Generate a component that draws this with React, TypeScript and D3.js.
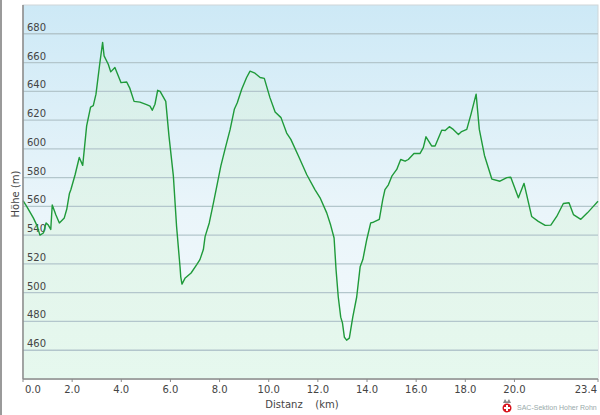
import * as d3 from 'd3';
import React from 'react';

// Höhenprofil: Distanz in km, Höhe in m
const distKm = [
  0, 0.15, 0.42, 0.56, 0.69, 0.83, 0.94, 1.03, 1.13, 1.19, 1.34, 1.48, 1.68, 1.78, 1.89, 1.95,
  2.12, 2.29, 2.43, 2.59, 2.75, 2.86, 2.97, 3.13, 3.24, 3.3, 3.47, 3.57, 3.74, 3.99, 4.22, 4.35,
  4.52, 4.76, 5.03, 5.17, 5.26, 5.37, 5.48, 5.58, 5.81, 5.94, 6.12, 6.25, 6.39, 6.42, 6.47, 6.59,
  6.84, 7.07, 7.2, 7.34, 7.41, 7.58, 7.75, 7.91, 8.05, 8.22, 8.43, 8.6, 8.72, 8.9, 9.1, 9.24,
  9.44, 9.65, 9.82, 10.05, 10.26, 10.5, 10.73, 10.9, 11.21, 11.55, 11.88, 12.09, 12.36, 12.52,
  12.66, 12.74, 12.83, 12.93, 13.0, 13.08, 13.17, 13.28, 13.42, 13.58, 13.72, 13.83, 13.99,
  14.15, 14.26, 14.5, 14.64, 14.73, 14.87, 15.01, 15.21, 15.37, 15.55, 15.68, 15.91, 16.16,
  16.29, 16.4, 16.63, 16.77, 17.04, 17.18, 17.35, 17.51, 17.72, 17.85, 18.06, 18.23, 18.44,
  18.57, 18.78, 19.08, 19.41, 19.69, 19.85, 20.16, 20.39, 20.7, 20.97, 21.25, 21.48, 21.72,
  21.99, 22.22, 22.4, 22.7, 22.97, 23.21, 23.4,
];
const hoeheM = [
  564, 560, 552, 547, 540, 541.5, 548.5, 547, 544, 561, 554, 548.5, 552, 558, 569, 571.7,
  582, 594, 588.5, 616, 629, 630, 638, 660, 674, 664.6, 658.8, 653.5, 656.5, 646, 646.5, 642,
  633, 632.5, 630.7, 629.7, 626.8, 631, 640.7, 640, 633, 609, 581, 546, 518, 511, 506, 510,
  513.7, 519.5, 523, 530, 539, 548.5, 562.5, 576, 588, 599.6, 613.5, 627.5, 632, 641.4, 649.6, 654,
  652.6, 649.6, 649, 635.6, 625.6, 621.7, 611, 606.6, 595, 582, 571.7, 566, 555.5, 547,
  538, 516, 497, 483, 479, 469, 467, 468.4, 483, 497, 518, 523, 537,
  548.5, 549, 551, 564.7, 571.7, 575, 581, 585.7, 592.6, 591.4, 592.6, 596.8, 596.8,
  600.8, 608.4, 602, 602, 613, 612.8, 615.4, 613.5, 610, 612, 613.5, 624, 638,
  613.5, 595.4, 579, 577.5, 580, 580.3, 566, 576, 553, 549.6, 546.8, 547, 553,
  562, 562.5, 554.3, 551, 555.5, 560, 563.6,
];
const xTicks = [0, 2, 4, 6, 8, 10, 12, 14, 16, 18, 20, 23.4];
const yTicks = [460, 480, 500, 520, 540, 560, 580, 600, 620, 640, 660, 680];

const W = 600;
const H = 415;
const left = 23;
const right = 598;
const top = 5;
const bottom = 379;

const App: React.FC = () => {
  const x = d3.scaleLinear().domain([0, 23.4]).range([left, right]);
  const y = d3.scaleLinear().domain([440, 700]).range([bottom, top]);

  const pts: [number, number][] = distKm.map((d, i) => [d, hoeheM[i]]);
  const line = d3.line<[number, number]>().x(d => x(d[0])).y(d => y(d[1]));
  const area = d3.area<[number, number]>().x(d => x(d[0])).y0(bottom).y1(d => y(d[1]));

  const font = '"DejaVu Sans", Verdana, sans-serif';

  return (
    <svg width={W} height={H} style={{ position: 'absolute', left: 0, top: 0, background: '#fff' }}>
      <defs>
        <linearGradient id="bg" x1="0" y1="0" x2="0" y2="1">
          <stop offset="0" stopColor="#cde9f6" />
          <stop offset="0.55" stopColor="#eaf5fa" />
          <stop offset="1" stopColor="#f4fafd" />
        </linearGradient>
        <linearGradient id="fill" x1="0" y1="0" x2="0" y2="1">
          <stop offset="0" stopColor="#d6f0e0" stopOpacity="0.5" />
          <stop offset="0.5" stopColor="#dff4e7" stopOpacity="0.75" />
          <stop offset="1" stopColor="#e6f8ee" stopOpacity="1" />
        </linearGradient>
      </defs>
      {/* Rahmen links */}
      <line x1={1} x2={1} y1={0} y2={H} stroke="#9a9a9a" strokeWidth={2} />
      <rect x={left} y={top} width={right - left} height={bottom - top} fill="url(#bg)" stroke="#cfd6d8" />

      <path d={area(pts) ?? ''} fill="url(#fill)" />

      {yTicks.map(t => (
        <g key={t}>
          <line x1={left} x2={right} y1={y(t)} y2={y(t)} stroke="#b3c6cc" strokeWidth={1.3} />
          <text x={27} y={y(t) - 3} fontFamily={font} fontSize={10} fill="#444">{t}</text>
        </g>
      ))}

      <path d={line(pts) ?? ''} fill="none" stroke="#1f9a3a" strokeWidth={1.4} strokeLinejoin="round" />

      {/* Achsen */}
      <line x1={left} x2={left} y1={top} y2={bottom} stroke="#8a8a8a" strokeWidth={1.5} />
      <line x1={left} x2={right} y1={bottom} y2={bottom} stroke="#8a8a8a" strokeWidth={1.5} />
      {xTicks.map((t, i) => (
        <g key={t}>
          <line x1={x(t)} x2={x(t)} y1={bottom} y2={bottom + 3} stroke="#8a8a8a" />
          <text
            x={i === 0 ? x(t) + 2 : i === xTicks.length - 1 ? x(t) - 1 : x(t)}
            y={bottom + 14}
            textAnchor={i === 0 ? 'start' : i === xTicks.length - 1 ? 'end' : 'middle'}
            fontFamily={font}
            fontSize={10}
            fill="#444"
          >
            {t.toFixed(1)}
          </text>
        </g>
      ))}

      <text x={302} y={408} textAnchor="middle" fontFamily={font} fontSize={10} fill="#444" xmlSpace="preserve">
        Distanz    (km)
      </text>
      <text
        transform={`translate(19,194) rotate(-90)`}
        textAnchor="middle"
        fontFamily={font}
        fontSize={10}
        fill="#444"
      >
        Höhe (m)
      </text>

      {/* Logo */}
      <g>
        <circle cx={507} cy={408} r={4.5} fill="#d8141c" />
        <rect x={506} y={405} width={2} height={6} fill="#fff" />
        <rect x={504} y={407} width={6} height={2} fill="#fff" />
        <path d="M503 403 L505 399 L507 402 L509 399 L511 403 Z" fill="#888" />
        <text x={517} y={410} fontFamily='"Liberation Sans", Arial, sans-serif' fontSize={7} fill="#9aa">
          SAC-Sektion Hoher Rohn
        </text>
      </g>
    </svg>
  );
};

export default App;
